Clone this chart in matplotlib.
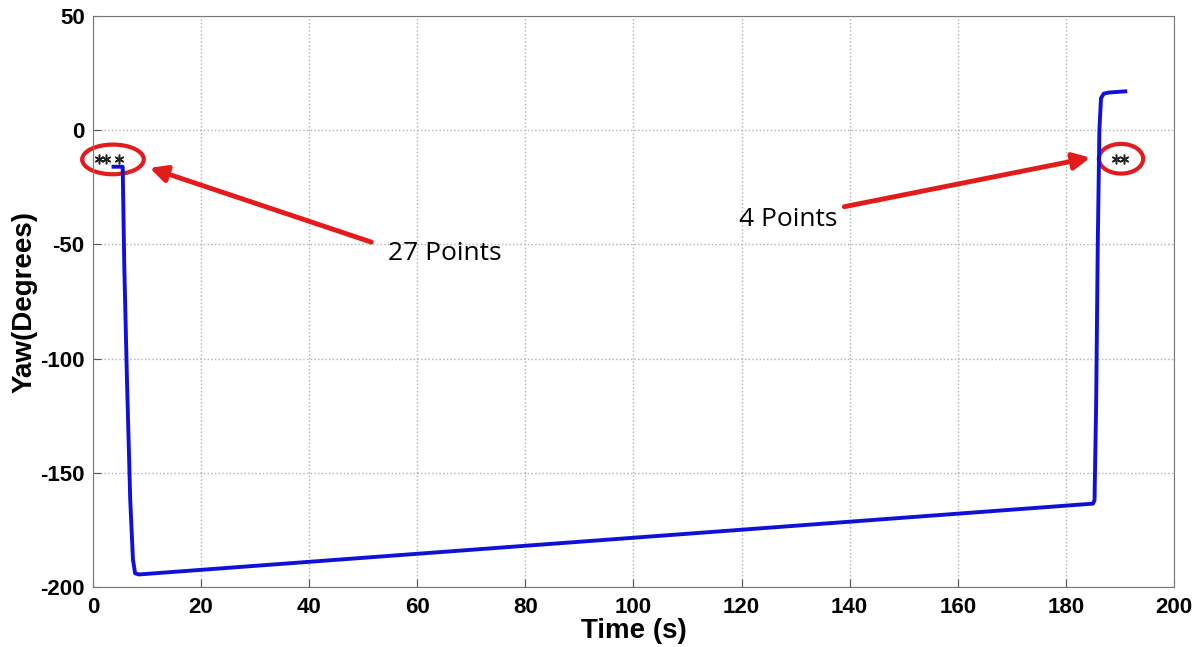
import matplotlib.pyplot as plt
from matplotlib.patches import Ellipse

plt.rcParams['axes.unicode_minus'] = False

# yaw trace (s, degrees)
time = [3.8, 5.5, 5.8, 6.3, 6.9, 7.4, 7.8, 8.5, 185.0, 185.3, 185.6, 185.9, 186.2, 186.5, 187.0, 188.0, 191.0]
yaw = [-16, -16, -60, -110, -162, -188, -194, -194.5, -163.5, -162, -120, -50, 0, 14, 16, 16.5, 17]

# marker points
star_t = [1.1, 2.4, 4.8, 189.3, 190.7]
star_y = [-12.5, -12.5, -12.5, -12.5, -12.5]

fig = plt.figure(figsize=(12.01, 6.47), dpi=100)
ax = fig.add_axes([0.0774, 0.0927, 0.9001, 0.8826])

ax.plot(time, yaw, color='#1010d8', linewidth=2.8)
ax.plot(star_t, star_y, linestyle='none', marker=(6, 2, 0), color='#222222', markersize=7, markeredgewidth=1.1)

ax.set_xlim(0, 200)
ax.set_ylim(-200, 50)
ax.set_xticks(range(0, 201, 20))
ax.set_yticks(range(-200, 51, 50))
ax.grid(True, linestyle=':', color='#b0b0b0', linewidth=1)
ax.tick_params(direction='in', length=6, color='#555555', labelsize=16, pad=7)
ax.tick_params(axis='y', pad=6)
for lab in ax.get_xticklabels() + ax.get_yticklabels():
    lab.set_fontweight('bold')
    lab.set_fontfamily('Liberation Sans')
for s in ax.spines.values():
    s.set_color('#777777')

ax.set_xlabel('Time (s)', fontsize=20, fontweight='bold', family='Liberation Sans', labelpad=0)
ax.set_ylabel('Yaw(Degrees)', fontsize=20, fontweight='bold', family='Liberation Sans', labelpad=2)

# red ellipses around the points
ax.add_patch(Ellipse((3.7, -12.8), 11.4, 13.0, fill=False, edgecolor='#e41b1b', linewidth=3, clip_on=False))
ax.add_patch(Ellipse((190.2, -12.5), 8.2, 13.0, fill=False, edgecolor='#e41b1b', linewidth=3, clip_on=False))

arrow = dict(arrowstyle='-|>,head_length=1.0,head_width=0.5', color='#e41b1b', linewidth=3.5, shrinkA=0, shrinkB=0)
ax.annotate('', xy=(10.5, -16.5), xytext=(51.5, -49), arrowprops=arrow)
ax.text(54.5, -54, '27 Points', fontsize=19, family='Open Sans', va='center', ha='left')
ax.annotate('', xy=(184.5, -12), xytext=(139, -33.5), arrowprops=arrow)
ax.text(119.5, -39, '4 Points', fontsize=19, family='Open Sans', va='center', ha='left')

fig.savefig('out.png', dpi=100)
